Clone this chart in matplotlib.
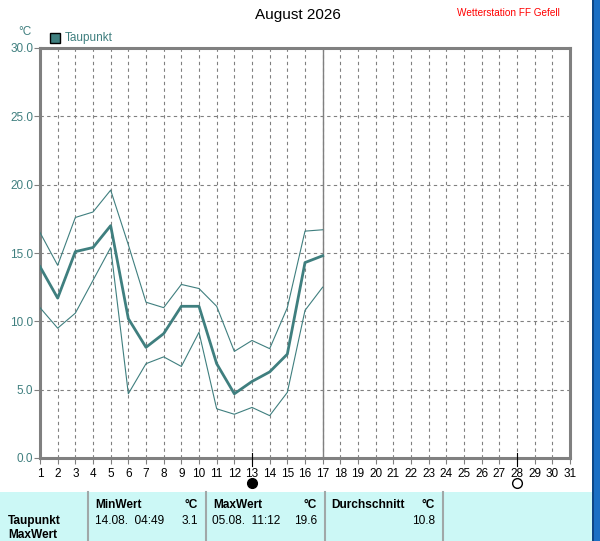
import numpy as np
import matplotlib
matplotlib.use("Agg")
import matplotlib.pyplot as plt
from matplotlib.patches import Rectangle

# Taupunkt data, August 2026 (days 1-17)
days = list(range(1, 18))
tp_mean = [14.0, 11.7, 15.1, 15.4, 17.0, 10.2, 8.1, 9.1, 11.1, 11.1, 6.9, 4.7, 5.6, 6.3, 7.6, 14.3, 14.8]
tp_max = [16.5, 14.1, 17.6, 18.0, 19.6, 15.6, 11.4, 11.0, 12.7, 12.4, 11.1, 7.8, 8.6, 8.0, 11.0, 16.6, 16.7]
tp_min = [11.0, 9.5, 10.6, 13.0, 15.4, 4.7, 6.9, 7.4, 6.7, 9.2, 3.6, 3.2, 3.7, 3.1, 4.8, 10.8, 12.5]

y_ticks = [0, 5, 10, 15, 20, 25, 30]
x_days = list(range(1, 32))
today = 17
new_moon = 13
full_moon = 28

header = ["MinWert", "MaxWert", "Durchschnitt"]
row_vals = ["14.08.  04:49", "3.1", "05.08.  11:12", "19.6", "10.8"]

teal = "#3f7f7f"
gray = "#808080"

plt.rcParams['font.family'] = ['Liberation Sans', 'DejaVu Sans']

fig = plt.figure(figsize=(6.0, 5.41), dpi=100)
W, H = 600, 541

def fx(px):
    return px / W

def fy(py):
    return 1 - py / H

ax = fig.add_axes([fx(40), fy(458), fx(570) - fx(40), fy(48) - fy(458)])
ax.set_xlim(1, 31)
ax.set_ylim(0, 30)

for d in x_days[1:-1]:
    ax.axvline(d, color=gray, lw=0.8, ls=(0, (3, 3)), zorder=1)
for v in y_ticks[1:-1]:
    ax.axhline(v, color=gray, lw=0.8, ls=(0, (3, 3)), zorder=1)
ax.axvline(today, color=gray, lw=1.0, zorder=2)

ax.plot(days, tp_max, color=teal, lw=0.8, zorder=3)
ax.plot(days, tp_min, color=teal, lw=0.8, zorder=3)
ax.plot(days, tp_mean, color=teal, lw=2.0, zorder=4)

for s in ax.spines.values():
    s.set_color(gray)
    s.set_linewidth(2.2)

ax.set_yticks(y_ticks)
ax.set_yticklabels([f"{v:.1f}" for v in y_ticks], color=teal, fontsize=8.5)
ax.set_xticks(x_days)
ax.set_xticklabels([str(d) for d in x_days], fontsize=8.5)
ax.tick_params(axis='y', length=4, width=0.8, color=gray, pad=1)
ax.tick_params(axis='x', length=4, width=0.8, color=gray, pad=3)

# moon phase markers
for d, fc in [(new_moon, "black"), (full_moon, "white")]:
    ax.plot([d, d], [-0.6, 0.35], color="black", lw=0.8, clip_on=False, zorder=5)
    ax.plot(d, -1.85, marker="o", ms=7, mfc=fc, mec="black", mew=1.0,
            clip_on=False, zorder=5)

# texts on top
fig.text(fx(298), fy(15), "August 2026", ha="center", va="center", fontsize=11)
fig.text(fx(560), fy(13), "Wetterstation FF Gefell", ha="right", va="center",
         fontsize=7.2, color="red")
fig.text(fx(25), fy(32), "°C", ha="center", va="center", fontsize=8.5, color=teal)
fig.patches.append(Rectangle((fx(50), fy(43)), fx(10), fy(33) - fy(43),
                             transform=fig.transFigure, fc=teal, ec="black", lw=1.0))
fig.text(fx(65), fy(38), "Taupunkt", ha="left", va="center", fontsize=8.5, color=teal)

# table at bottom
fs = 8.6
fig.patches.append(Rectangle((0, 0), fx(592), fy(492), transform=fig.transFigure,
                             fc="#ccf8f6", ec="none", zorder=0))
for sx in [88, 206, 325, 443]:
    fig.add_artist(plt.Line2D([fx(sx), fx(sx)], [0, fy(492)], color="#a0a8a8",
                              lw=1.5, transform=fig.transFigure))
hy = fy(505)
ry = fy(521)
fig.text(fx(95), hy, header[0], fontsize=fs, weight="bold", va="center")
fig.text(fx(198), hy, "°C", fontsize=fs, weight="bold", va="center", ha="right")
fig.text(fx(213), hy, header[1], fontsize=fs, weight="bold", va="center")
fig.text(fx(317), hy, "°C", fontsize=fs, weight="bold", va="center", ha="right")
fig.text(fx(331), hy, header[2], fontsize=fs, weight="bold", va="center")
fig.text(fx(435), hy, "°C", fontsize=fs, weight="bold", va="center", ha="right")
fig.text(fx(8), ry, "Taupunkt", fontsize=fs, weight="bold", va="center")
fig.text(fx(95), ry, row_vals[0], fontsize=fs, va="center")
fig.text(fx(198), ry, row_vals[1], fontsize=fs, va="center", ha="right")
fig.text(fx(212), ry, row_vals[2], fontsize=fs, va="center")
fig.text(fx(317), ry, row_vals[3], fontsize=fs, va="center", ha="right")
fig.text(fx(435), ry, row_vals[4], fontsize=fs, va="center", ha="right")
fig.text(fx(8), fy(535), "MaxWert", fontsize=fs, weight="bold", va="center")

# blue page strip on the right edge
fig.patches.append(Rectangle((fx(592), 0), 1 - fx(592), 1, transform=fig.transFigure,
                             fc="#1a6fc4", ec="none", zorder=0))
fig.add_artist(plt.Line2D([fx(592.5), fx(592.5)], [0, 1], color="#0b3f7a", lw=1.2,
                          transform=fig.transFigure))

fig.savefig("out.png", dpi=100)
